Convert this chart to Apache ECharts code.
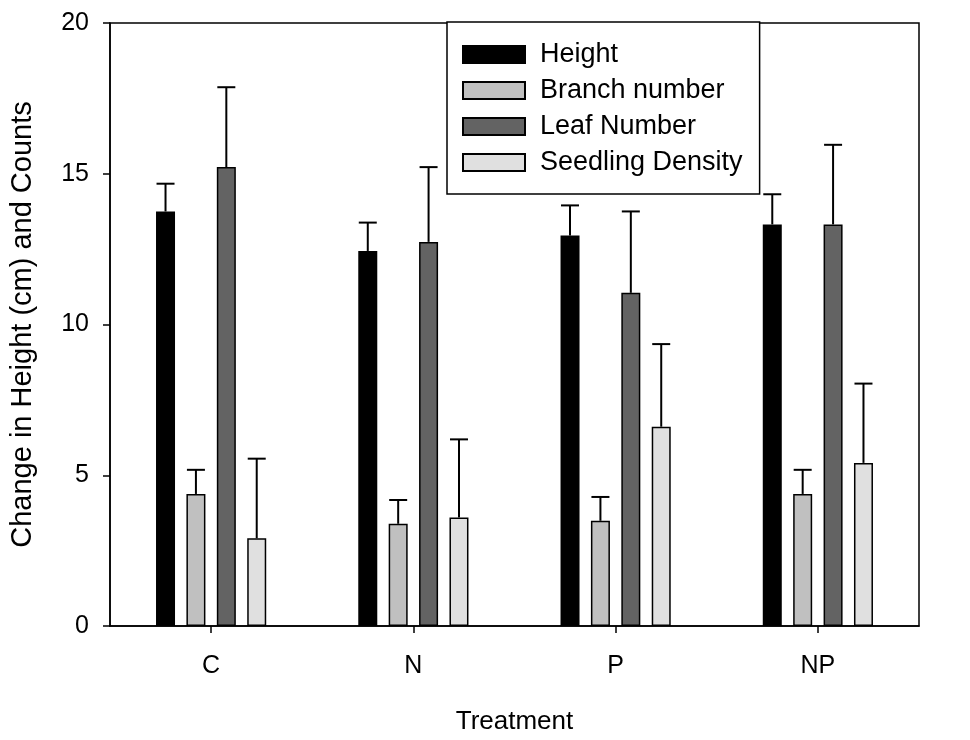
<!DOCTYPE html>
<html>
<head>
<meta charset="utf-8">
<script src="https://cdn.jsdelivr.net/npm/echarts@6/dist/echarts.min.js"></script>
<style>
html,body{margin:0;padding:0;background:#fff;}
#chart{width:970px;height:740px;}
</style>
</head>
<body>
<div id="chart"></div>
<script>
const categories = ['C', 'N', 'P', 'NP'];
const seriesNames = ['Height', 'Branch number', 'Leaf Number', 'Seedling Density'];
const heightVals = [13.75, 12.44, 12.95, 13.32];
const heightErr = [0.92, 0.94, 1.0, 1.0];
const branchVals = [4.38, 3.39, 3.49, 4.38];
const branchErr = [0.8, 0.79, 0.79, 0.8];
const leafVals = [15.22, 12.74, 11.05, 13.32];
const leafErr = [2.65, 2.48, 2.7, 2.64];
const seedlingVals = [2.91, 3.60, 6.61, 5.41];
const seedlingErr = [2.64, 2.59, 2.74, 2.63];
const yTicks = [0, 5, 10, 15, 20];

const colors = ['#000000', '#c0c0c0', '#636363', '#e0e0e0'];
const allVals = [heightVals, branchVals, leafVals, seedlingVals];
const allErr = [heightErr, branchErr, leafErr, seedlingErr];

const BAR_W = 19;
const BAR_GAP_PX = 11.4;
const FONT = '"Liberation Sans", Arial, sans-serif';

const chart = echarts.init(document.getElementById('chart'), null, {renderer: 'canvas'});

const series = [];
allVals.forEach((vals, i) => {
  series.push({
    name: seriesNames[i],
    type: 'bar',
    data: vals,
    barWidth: BAR_W,
    barGap: (BAR_GAP_PX / BAR_W * 100) + '%',
    itemStyle: {color: colors[i], borderColor: '#000', borderWidth: 1.5},
    emphasis: {disabled: true},
    z: 2
  });
});
allVals.forEach((vals, i) => {
  const offset = (i - 1.5) * (BAR_W + BAR_GAP_PX);
  series.push({
    name: seriesNames[i] + ' err',
    type: 'custom',
    data: vals.map((v, j) => [j, v, allErr[i][j]]),
    encode: {x: 0, y: 1},
    z: 3,
    silent: true,
    renderItem: function (params, api) {
      const idx = api.value(0);
      const v = api.value(1);
      const e = api.value(2);
      const p0 = api.coord([idx, v]);
      const p1 = api.coord([idx, v + e]);
      const x = p0[0] + offset;
      const style = {stroke: '#000', lineWidth: 2};
      return {
        type: 'group',
        children: [
          {type: 'line', shape: {x1: x, y1: p0[1], x2: x, y2: p1[1]}, style: style},
          {type: 'line', shape: {x1: x - 9, y1: p1[1], x2: x + 9, y2: p1[1]}, style: style}
        ]
      };
    }
  });
});

chart.setOption({
  animation: false,
  backgroundColor: '#fff',
  grid: {
    left: 110, right: 51, top: 23, bottom: 114,
    show: true, borderColor: '#000', borderWidth: 1.5, backgroundColor: 'transparent'
  },
  legend: {
    data: seriesNames,
    orient: 'vertical',
    left: 447, top: 22,
    icon: 'rect',
    itemWidth: 62, itemHeight: 17, itemGap: 9,
    padding: [19, 17, 18, 15],
    backgroundColor: '#fff',
    borderColor: '#000', borderWidth: 1.5,
    selectedMode: false,
    textStyle: {fontSize: 27, color: '#000', fontFamily: FONT, padding: [0, 0, 0, 10]},
    z: 10
  },
  xAxis: {
    type: 'category',
    data: categories,
    name: 'Treatment',
    nameLocation: 'middle',
    nameGap: 83,
    nameTextStyle: {fontSize: 26, color: '#000', fontFamily: FONT},
    axisLine: {lineStyle: {color: '#000', width: 1.5}},
    axisTick: {show: true, alignWithLabel: true, length: 7, lineStyle: {color: '#000', width: 1.5}},
    axisLabel: {fontSize: 25, color: '#000', fontFamily: FONT, margin: 28},
    splitLine: {show: false}
  },
  yAxis: {
    type: 'value',
    min: yTicks[0], max: yTicks[yTicks.length - 1], interval: yTicks[1] - yTicks[0],
    name: 'Change in Height (cm) and Counts',
    nameLocation: 'middle',
    nameGap: 73,
    nameTextStyle: {fontSize: 29, color: '#000', fontFamily: FONT},
    axisLine: {show: true, lineStyle: {color: '#000', width: 1.5}},
    axisTick: {show: true, length: 7, lineStyle: {color: '#000', width: 1.5}},
    axisLabel: {fontSize: 25, color: '#000', fontFamily: FONT, margin: 21},
    splitLine: {show: false}
  },
  series: series
});
</script>
</body>
</html>
